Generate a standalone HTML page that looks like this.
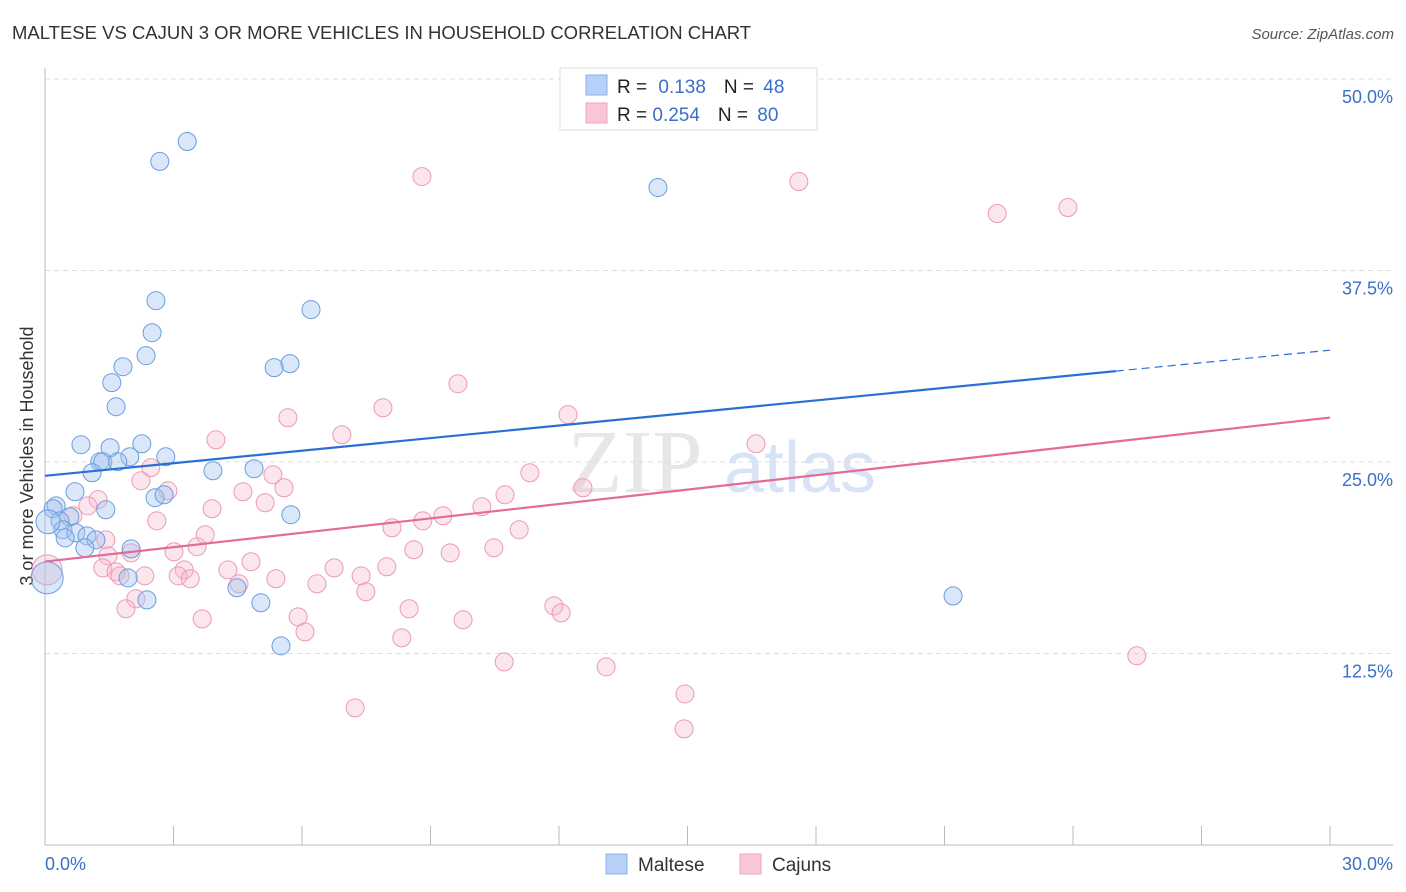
<!DOCTYPE html>
<html><head><meta charset="utf-8"><style>
body{margin:0;background:#fff;font-family:"Liberation Sans",sans-serif;}
svg{display:block}
</style></head><body>
<svg id="chart" width="1406" height="892">
<text x="12" y="39" font-size="18.5" fill="#333">MALTESE VS CAJUN 3 OR MORE VEHICLES IN HOUSEHOLD CORRELATION CHART</text>
<text x="1394" y="39" font-size="15" fill="#555" font-style="italic" text-anchor="end">Source: ZipAtlas.com</text>
<text transform="translate(33,456) rotate(-90)" font-size="18" fill="#333" text-anchor="middle">3 or more Vehicles in Household</text>
<g><text x="635" y="492" font-size="90" fill="#ddd" font-family="Liberation Serif,serif" text-anchor="middle" opacity="0.7">ZIP</text><text x="800" y="492" font-size="72" fill="#c8daf2" text-anchor="middle" opacity="0.7">atlas</text></g>
<g id="grid"></g><g id="axes"></g><g id="marks"></g>
<g>
<rect x="560" y="68" width="257" height="62" fill="#fff" stroke="#ddd"/>
<rect x="586" y="75" width="21" height="20" fill="#b7d0f5" stroke="#8ab2ea"/>
<rect x="586" y="103" width="21" height="20" fill="#f9c6d6" stroke="#eea6bf"/>
<text x="617" y="93" font-size="19" fill="#222">R = <tspan fill="#3a70c9" dx="6">0.138</tspan><tspan dx="18" fill="#222">N = </tspan><tspan fill="#3a70c9" dx="4">48</tspan></text>
<text x="617" y="121" font-size="19" fill="#222">R = <tspan fill="#3a70c9">0.254</tspan><tspan dx="18" fill="#222">N = </tspan><tspan fill="#3a70c9" dx="4">80</tspan></text>
</g>
<g>
<rect x="606" y="854" width="21" height="20" fill="#b7d0f5" stroke="#8ab2ea"/>
<text x="638" y="871" font-size="19" fill="#333">Maltese</text>
<rect x="740" y="854" width="21" height="20" fill="#f9c6d6" stroke="#eea6bf"/>
<text x="772" y="871" font-size="19" fill="#333">Cajuns</text>
</g>
</svg>
<script>
const yTicks=[12.5,25,37.5,50];
const yTickLabels=["12.5%","25.0%","37.5%","50.0%"];
const xTickLabels=["0.0%","30.0%"];
const blueX=[3.32,2.68,14.31,2.59,6.21,2.50,2.36,1.82,5.72,5.35,1.56,1.66,0.84,1.52,2.26,1.98,2.82,1.28,1.35,1.70,1.10,3.92,4.88,0.70,2.57,2.78,0.26,0.19,1.42,5.74,0.58,0.35,0.42,0.72,0.98,0.47,1.19,0.93,2.01,1.94,2.38,4.48,5.04,5.51,21.20,0.05,0.07];
const blueY=[45.92,44.62,42.92,35.53,34.95,33.44,31.94,31.22,31.42,31.16,30.18,28.61,26.13,25.93,26.19,25.34,25.34,25.02,25.02,25.02,24.30,24.43,24.56,23.06,22.67,22.86,22.14,21.95,21.88,21.56,21.42,21.16,20.58,20.38,20.18,20.05,19.92,19.40,19.33,17.44,16.00,16.79,15.81,13.00,16.26,17.44,21.10];
const blueSize=[9,9,9,9,9,9,9,9,9,9,9,9,9,9,9,9,9,9,9,9,9,9,9,9,9,9,9,9,9,9,9,9,9,9,9,9,9,9,9,9,9,9,9,9,9,16,12];
const pinkX=[8.80,17.60,22.23,23.88,9.64,7.89,12.21,5.67,6.93,3.99,16.60,2.47,11.32,5.32,2.24,2.87,5.58,4.62,10.74,1.24,5.14,1.00,3.90,10.20,9.29,0.65,2.61,8.82,8.10,11.07,3.74,1.42,3.55,10.48,3.01,8.61,9.46,2.01,1.47,4.81,6.75,7.98,1.35,4.27,1.66,3.25,2.33,7.38,1.75,3.11,3.39,5.39,6.35,4.53,7.49,2.12,1.89,8.50,11.88,12.05,5.91,3.67,9.76,6.07,8.33,10.72,13.10,25.49,14.94,14.92,7.24,0.05,12.56];
const pinkY=[43.63,43.31,41.22,41.61,30.11,28.54,28.09,27.89,26.78,26.45,26.19,24.63,24.30,24.17,23.78,23.12,23.32,23.06,22.86,22.54,22.34,22.14,21.95,22.08,21.49,21.49,21.16,21.16,20.71,20.58,20.25,19.92,19.47,19.40,19.14,19.27,19.07,19.07,18.88,18.49,18.09,18.16,18.09,17.96,17.83,17.96,17.57,17.57,17.57,17.57,17.38,17.38,17.05,17.05,16.53,16.07,15.42,15.42,15.61,15.15,14.89,14.76,14.70,13.91,13.52,11.95,11.63,12.35,9.86,7.58,8.95,17.96,23.32];
const blueTrend=[24.1,32.3];
const pinkTrend=[18.5,27.9];
const NS="http://www.w3.org/2000/svg";
const X0=45,X1=1330,Y0=845,YT=79;
const sx=v=>X0+(v/30)*(X1-X0);
const sy=v=>Y0-(v/50)*(Y0-YT);
function mk(tag,attrs,parent){const e=document.createElementNS(NS,tag);for(const k in attrs)e.setAttribute(k,attrs[k]);document.getElementById(parent).appendChild(e);return e;}
yTicks.forEach((t,i)=>{
 const l=mk('line',{x1:X0,x2:1393,y1:sy(t),y2:sy(t),stroke:'#ddd','stroke-dasharray':'5,4'},'grid');
 
 
 const tx=mk('text',{x:1393,y:sy(t)+24,'font-size':18,fill:'#3a70c9','text-anchor':'end'},'grid');
 tx.textContent=yTickLabels[i];
 
 
});
const ax=mk('line',{x1:X0,x2:1393,y1:Y0,y2:Y0,stroke:'#bbb'},'axes');


const ay=mk('line',{x1:X0,x2:X0,y1:68,y2:Y0,stroke:'#bbb'},'axes');


for(let i=0;i<=10;i++){const t=mk('line',{x1:sx(i*3),x2:sx(i*3),y1:826,y2:Y0,stroke:'#bbb'},'axes');
 
 }
[[0,'start',45],[30,'end',1393]].forEach((d,i)=>{const t=mk('text',{x:d[2],y:870,'font-size':18,fill:'#3a70c9','text-anchor':d[1]},'axes');t.textContent=xTickLabels[i];
 
 });
pinkX.forEach((x,i)=>{const c=mk('circle',{cx:sx(x),cy:sy(pinkY[i]),r:i==71?15:9,fill:'rgba(246,182,204,0.35)',stroke:'#eb9ab6','stroke-width':1},'marks');
 
 });
blueX.forEach((x,i)=>{const c=mk('circle',{cx:sx(x),cy:sy(blueY[i]),r:blueSize[i],fill:'rgba(160,194,240,0.4)',stroke:'#6a9de0','stroke-width':1},'marks');
 
 });
const by=x=>blueTrend[0]+(blueTrend[1]-blueTrend[0])*x/30;
const b1=mk('line',{x1:sx(0),y1:sy(by(0)),x2:sx(25),y2:sy(by(25)),stroke:'#2a6fd6','stroke-width':2.2},'marks');


const b2=mk('line',{x1:sx(25),y1:sy(by(25)),x2:sx(30),y2:sy(by(30)),stroke:'#2a6fd6','stroke-width':1.2,'stroke-dasharray':'8,5'},'marks');


const p1=mk('line',{x1:sx(0),y1:sy(pinkTrend[0]),x2:sx(30),y2:sy(pinkTrend[1]),stroke:'#e36b98','stroke-width':2.2},'marks');


</script>
</body></html>
